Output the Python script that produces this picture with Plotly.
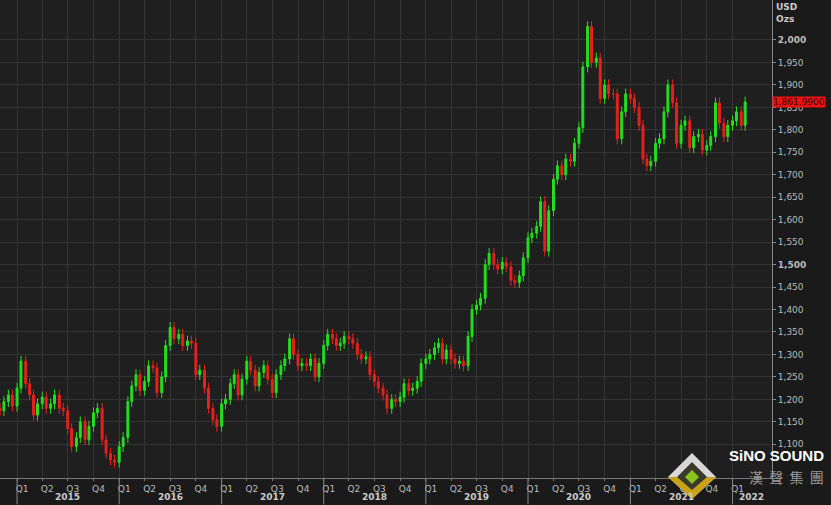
import plotly.graph_objects as go
import pandas as pd

closes = [1175,1195,1210,1185,
1225,1285,1235,1210,1165,1190,1205,1180,1190,1210,1180,1175,1135,1095,1115,1150,1110,1140,1170,1180,1110,1080,1065,1060,
1095,1115,1195,1230,1255,1220,1240,1275,1270,1215,1250,1320,1360,1335,1345,1320,1330,1325,1255,1265,1225,1180,1155,1140,
1190,1200,1235,1255,1210,1245,1285,1265,1230,1260,1275,1245,1215,1255,1275,1290,1335,1300,1275,1280,1275,1290,1250,1280,
1320,1345,1335,1320,1325,1340,1335,1325,1300,1290,1295,1255,1240,1225,1210,1180,1200,1195,1205,1235,1220,1225,1240,1280,
1290,1300,1315,1325,1290,1310,1290,1280,1285,1275,1340,1400,1410,1425,1500,1525,1500,1490,1505,1495,1465,1460,1475,1515,
1560,1570,1585,1640,1530,1620,1690,1720,1700,1735,1730,1770,1805,1940,2030,1950,1960,1870,1900,1880,1880,1780,1840,1880,
1870,1850,1810,1735,1720,1730,1770,1780,1840,1900,1860,1770,1810,1820,1760,1785,1790,1755,1765,1785,1860,1815,1785,1810,
1820,1840,1810,1862]
first_open = 1180
wick = 12
dates = pd.date_range("2014-11-01", periods=len(closes), freq="SMS")
opens = [first_open] + closes[:-1]
highs = [max(o, c) + wick for o, c in zip(opens, closes)]
lows = [min(o, c) - wick for o, c in zip(opens, closes)]

qvals = pd.date_range("2015-01-01", "2022-01-01", freq="QS")
qtext = ["Q%d" % ((d.month - 1) // 3 + 1) for d in qvals]
years = list(range(2015, 2023))
year_label_dates = [f"{y}-07-01" for y in range(2015, 2022)] + ["2022-03-10"]

fig = go.Figure(go.Candlestick(x=dates, open=opens, high=highs, low=lows, close=closes,
    increasing=dict(line=dict(color="#22e01e", width=1), fillcolor="#22e01e"),
    decreasing=dict(line=dict(color="#e8211c", width=1), fillcolor="#e8211c"),
    whiskerwidth=0, hoverinfo="skip"))

yt = list(range(1100, 2001, 50))
fig.update_layout(
    width=831, height=505, margin=dict(l=0, r=59, t=0, b=27, autoexpand=False),
    paper_bgcolor="#1a1a1a", plot_bgcolor="#1f1f1f", showlegend=False,
    font=dict(family="DejaVu Sans", color="#bbbbbb", size=9),
    xaxis=dict(rangeslider=dict(visible=False), range=["2014-11-01", "2022-05-22"],
               automargin=False, ticklabelshift=5,
               tickvals=qvals, ticktext=qtext, gridcolor="#343434", showline=True,
               linecolor="#777", ticks="outside", ticklen=2, tickcolor="#777",
               tickfont=dict(size=9, color="#bbbbbb")),
    yaxis=dict(side="right", range=[1025, 2089], tickvals=yt, automargin=False,
               ticktext=[("<b>%s</b>" if v in (1500, 2000) else "%s") % f"{v:,}" for v in yt],
               gridcolor="#343434", showline=True, linecolor="#888", ticks="outside",
               ticklen=3, tickcolor="#888", tickfont=dict(size=9, color="#bbbbbb")),
)
for y, d in zip(years, year_label_dates):
    fig.add_annotation(x=pd.Timestamp(d), y=0, yref="paper", yanchor="top",
                       yshift=-12, text=f"<b>{y}</b>", showarrow=False,
                       font=dict(size=9, color="#cccccc"))
    fig.add_shape(type="line", x0=pd.Timestamp(f"{y}-01-01"), x1=pd.Timestamp(f"{y}-01-01"),
                  y0=0, y1=-0.055, yref="paper", line=dict(color="#888", width=1))
fig.add_annotation(x=1.003, xref="paper", y=1.0, yref="paper", xanchor="left", yanchor="top",
                   text="<b>USD<br>Ozs</b>", showarrow=False, align="left",
                   font=dict(size=9, color="#cccccc"))
fig.add_annotation(x=1.0, xref="paper", y=closes[-1], xanchor="left",
                   text="1,861.9900", showarrow=False, bgcolor="#ee1111",
                   font=dict(size=9, color="#330000"), borderpad=0)

# logo
PW, PH = 772.0, 478.0
def p(px, py):
    return px / PW, (PH - py) / PH
def path(pts):
    return "M " + " L ".join("%f,%f" % p(x, y) for x, y in pts) + " Z"
fig.add_shape(type="path", xref="paper", yref="paper", path=path([(692, 453), (716, 477), (692, 499), (668, 477)]),
              fillcolor="#d8d8d8", line=dict(width=0))
fig.add_shape(type="path", xref="paper", yref="paper", path=path([(668, 477), (716, 477), (692, 499)]),
              fillcolor="#c9a21a", line=dict(width=0))
fig.add_shape(type="path", xref="paper", yref="paper", path=path([(692, 462), (707, 477), (692, 490), (677, 477)]),
              fillcolor="#3a3a2a", line=dict(width=0))
fig.add_shape(type="path", xref="paper", yref="paper", path=path([(692, 470), (699, 477), (692, 484), (685, 477)]),
              fillcolor="#8bc21c", line=dict(width=0))
fig.add_annotation(x=826 / PW, xref="paper", y=p(0, 466)[1], yref="paper", xanchor="right",
                   text="<b>SiNO SOUND</b>", showarrow=False,
                   font=dict(size=15, color="#ffffff", family="Liberation Sans"))
fig.add_annotation(x=826 / PW, xref="paper", y=p(0, 489)[1], yref="paper", xanchor="right",
                   text="漢  聲  集  團", showarrow=False,
                   font=dict(size=14, color="#9a9a9a", family="Noto Sans CJK TC"))
fig.write_html("out.html", config={"displayModeBar": False},
               post_script="document.body.style.margin='0';")
